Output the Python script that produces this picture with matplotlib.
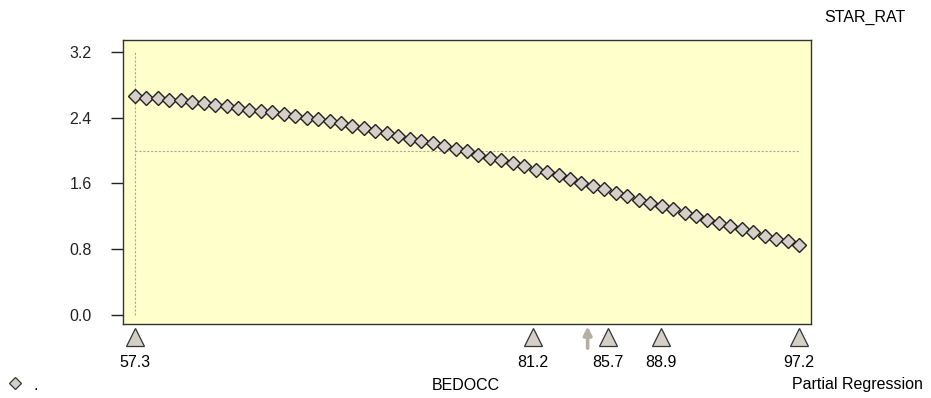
import numpy as np
import matplotlib.pyplot as plt

plt.rcParams['font.family'] = ['Liberation Sans', 'DejaVu Sans']

# partial regression curve: STAR_RAT vs BEDOCC
bedocc_min = 57.3
bedocc_max = 97.2
n_points = 59
star_rat = [2.66, 2.645, 2.635, 2.62, 2.61, 2.595, 2.575, 2.555, 2.54, 2.52,
            2.50, 2.485, 2.465, 2.44, 2.425, 2.40, 2.385, 2.365, 2.33, 2.30,
            2.27, 2.24, 2.21, 2.18, 2.145, 2.12, 2.09, 2.055, 2.025, 1.99,
            1.95, 1.915, 1.88, 1.845, 1.81, 1.765, 1.735, 1.70, 1.655, 1.605,
            1.57, 1.53, 1.485, 1.45, 1.40, 1.36, 1.325, 1.285, 1.235, 1.205,
            1.16, 1.115, 1.08, 1.045, 1.005, 0.965, 0.93, 0.895, 0.85]
bedocc = np.linspace(bedocc_min, bedocc_max, n_points)

mean_y = 2.0
mean_x = 84.5
quantiles = [57.3, 81.2, 85.7, 88.9, 97.2]
quantile_labels = ['57.3', '81.2', '85.7', '88.9', '97.2']
yticks = [0.0, 0.8, 1.6, 2.4, 3.2]

fs = 11.5

fig = plt.figure(figsize=(9.31, 3.98), dpi=100)
ax = fig.add_axes([0.1321, 0.1859, 0.739, 0.7136])
ax.set_facecolor('#ffffcc')

# reference lines
ax.plot([bedocc_min, bedocc_min], [0, 3.2], color='#a8a8a8', lw=0.8, ls=(0, (2, 1.5)))
ax.plot([bedocc_min, bedocc_max], [mean_y, mean_y], color='#a8a8a8', lw=0.8, ls=(0, (2, 1.5)))

ax.plot(bedocc, star_rat, ls='none', marker='D', markersize=7.6,
        markerfacecolor='#d4d0c8', markeredgecolor='#222222', markeredgewidth=1.0)

ax.set_xlim(56.58, 97.92)
ax.set_ylim(-0.11, 3.346)
ax.set_xticks([])
ax.set_yticks(yticks)
ax.set_yticklabels(['%.1f' % v for v in yticks])
ax.tick_params(axis='y', direction='out', length=8.6, width=1, pad=14, labelsize=fs, colors='#222222')
for s in ax.spines.values():
    s.set_color('#333333')
    s.set_linewidth(1.0)

# quantile triangles and mean arrow below the axis
trans = ax.get_xaxis_transform()
ax.plot(quantiles, [-0.046] * len(quantiles), ls='none', marker='^', markersize=13,
        markerfacecolor='#d4d0c8', markeredgecolor='#333333', markeredgewidth=0.9,
        transform=trans, clip_on=False)
for q, lab in zip(quantiles, quantile_labels):
    ax.text(q, -0.134, lab, transform=trans, ha='center', va='center', fontsize=fs)
ax.annotate('', xy=(mean_x, -0.008), xytext=(mean_x, -0.085), xycoords=trans,
            arrowprops=dict(arrowstyle='-|>', color='#b4b0a8', lw=2.6, mutation_scale=12,
                            shrinkA=0, shrinkB=0))

fig.text(466 / 931, 1 - 385 / 398, 'BEDOCC', ha='center', va='center', fontsize=fs)
fig.text(923 / 931, 1 - 385 / 398, 'Partial Regression', ha='right', va='center', fontsize=fs)
fig.text(865 / 931, 1 - 17 / 398, 'STAR_RAT', ha='center', va='center', fontsize=fs)

# legend-like key
fig.lines.append(plt.Line2D([15 / 931], [1 - 383 / 398], transform=fig.transFigure, ls='none',
                            marker='D', markersize=6, markerfacecolor='#d4d0c8',
                            markeredgecolor='#333333', markeredgewidth=0.9))
fig.text(36 / 931, 1 - 385 / 398, '.', ha='center', va='center', fontsize=fs)

fig.savefig('out.png', dpi=100)
